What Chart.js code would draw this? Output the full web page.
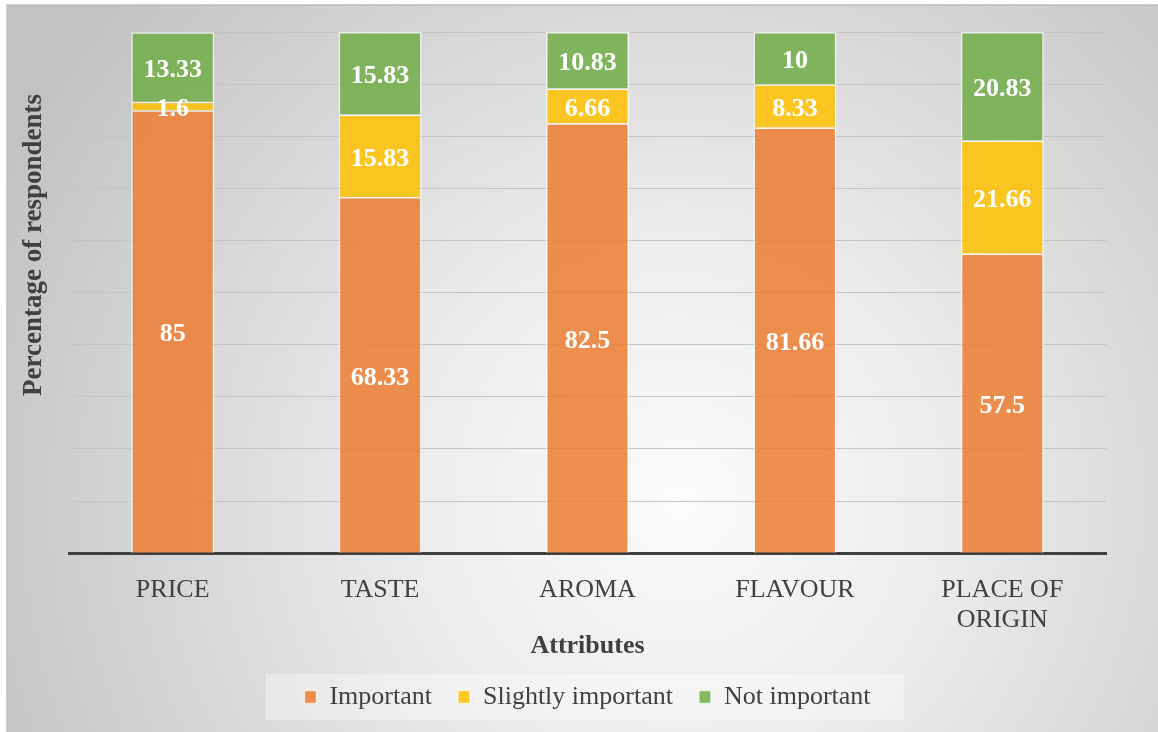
<!DOCTYPE html>
<html>
<head>
<meta charset="utf-8">
<script src="https://cdn.jsdelivr.net/npm/chart.js@4"></script>
<style>
  html, body { margin: 0; padding: 0; background: #fff; }
  #wrap { position: relative; width: 1158px; height: 732px; }
</style>
</head>
<body>
<div id="wrap"><canvas id="chart"></canvas></div>
<script>
const attributes = [['PRICE'], ['TASTE'], ['AROMA'], ['FLAVOUR'], ['PLACE OF', 'ORIGIN']];
const important = [85, 68.33, 82.5, 81.66, 57.5];
const slightlyImportant = [1.6, 15.83, 6.66, 8.33, 21.66];
const notImportant = [13.33, 15.83, 10.83, 10, 20.83];

const serif = "'Liberation Serif', 'Times New Roman', serif";
const textColor = '#404040';

// grey radial backdrop, frame lines and the pale legend panel
const backdrop = {
  id: 'backdrop',
  beforeDraw(chart) {
    const ctx = chart.ctx;
    const w = chart.width, h = chart.height;
    ctx.save();
    ctx.fillStyle = '#fff';
    ctx.fillRect(0, 0, w, h);
    const g = ctx.createRadialGradient(680, 500, 0, 680, 500, 760);
    g.addColorStop(0, '#fbfbfb');
    g.addColorStop(0.35, '#ececec');
    g.addColorStop(1, '#c2c2c2');
    ctx.fillStyle = g;
    ctx.fillRect(7, 5, w - 7, h - 5);
    ctx.strokeStyle = '#bdbdbd';
    ctx.lineWidth = 1.5;
    ctx.beginPath();
    ctx.moveTo(7, h);
    ctx.lineTo(7, 5);
    ctx.lineTo(w, 5);
    ctx.stroke();

    const boxes = chart.legend.legendHitBoxes;
    if (boxes && boxes.length) {
      const first = boxes[0], last = boxes[boxes.length - 1];
      const x0 = first.left - 39, x1 = last.left + last.width + 33;
      const cy = first.top + first.height / 2;
      ctx.fillStyle = 'rgba(255,255,255,0.35)';
      ctx.fillRect(x0, cy - 23, x1 - x0, 46);
    }
    ctx.restore();
  }
};

// white value written in the middle of every segment
const segmentValues = {
  id: 'segmentValues',
  afterDatasetsDraw(chart) {
    const ctx = chart.ctx;
    ctx.save();
    ctx.fillStyle = '#fff';
    ctx.font = 'bold 26px ' + serif;
    ctx.textAlign = 'center';
    ctx.textBaseline = 'middle';
    chart.data.datasets.forEach((ds, i) => {
      chart.getDatasetMeta(i).data.forEach((bar, j) => {
        const mid = (bar.y + bar.base) / 2;
        ctx.fillText(String(ds.data[j]), bar.x, mid + 3);
      });
    });
    ctx.restore();
  }
};

// rotated y axis title
const yTitle = {
  id: 'yTitle',
  afterDraw(chart) {
    const ctx = chart.ctx;
    ctx.save();
    ctx.translate(34, 245);
    ctx.rotate(-Math.PI / 2);
    ctx.fillStyle = textColor;
    ctx.font = 'bold 27px ' + serif;
    ctx.textAlign = 'center';
    ctx.textBaseline = 'middle';
    ctx.fillText('Percentage of respondents', 0, 0);
    ctx.restore();
  }
};

const ctx = document.getElementById('chart');

new Chart(ctx, {
  type: 'bar',
  data: {
    labels: attributes,
    datasets: [{
      label: 'Important',
      data: important,
      backgroundColor: 'rgba(237, 125, 49, 0.85)'
    }, {
      label: 'Slightly important',
      data: slightlyImportant,
      backgroundColor: 'rgba(255, 192, 0, 0.85)'
    }, {
      label: 'Not important',
      data: notImportant,
      backgroundColor: 'rgba(112, 173, 71, 0.85)'
    }].map(ds => Object.assign(ds, {
      borderColor: 'rgba(255, 255, 255, 0.7)',
      borderWidth: 1.5,
      categoryPercentage: 1,
      barPercentage: 0.4
    }))
  },
  options: {
    responsive: true,
    maintainAspectRatio: false,
    animation: false,
    layout: {
      padding: { left: 69, right: 52, top: 32, bottom: 12 }
    },
    scales: {
      x: {
        stacked: true,
        grid: { display: false },
        border: { color: textColor, width: 3 },
        ticks: {
          color: textColor,
          font: { family: serif, size: 26, lineHeight: 1.15 },
          padding: 14,
          maxRotation: 0,
          autoSkip: false
        },
        title: {
          display: true,
          text: 'Attributes',
          color: textColor,
          font: { family: serif, size: 26, weight: 'bold', lineHeight: 1 },
          padding: { top: -16, bottom: -1 }
        }
      },
      y: {
        stacked: true,
        min: 0,
        max: 100,
        ticks: { display: false, stepSize: 10 },
        grid: { color: '#c4c4c4', lineWidth: 1, drawTicks: false },
        border: { display: false }
      }
    },
    plugins: {
      legend: {
        position: 'bottom',
        labels: {
          boxWidth: 12,
          boxHeight: 13,
          padding: 26,
          color: textColor,
          font: { family: serif, size: 26 }
        }
      },
      tooltip: { enabled: false }
    }
  },
  plugins: [backdrop, segmentValues, yTitle]
});
</script>
</body>
</html>
